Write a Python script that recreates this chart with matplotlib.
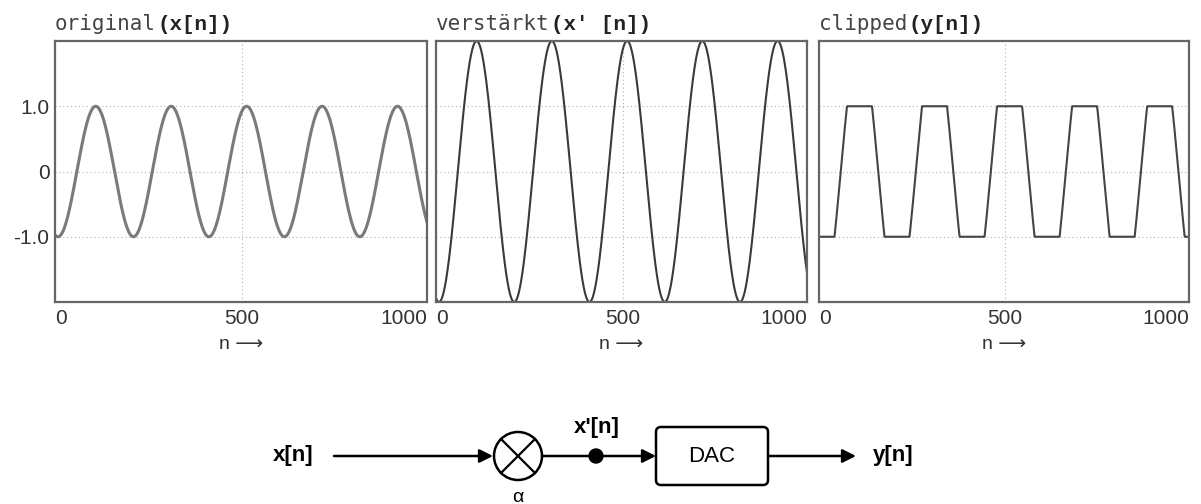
import numpy as np
import matplotlib
matplotlib.use('Agg')
from matplotlib import pyplot as plt
from matplotlib.patches import Circle, FancyBboxPatch

####
# Data
####
# signal parameters: period, shift of first minimum, last sample, gain, clip level
PERIOD = 201.6
SHIFT = 8.0
N_LAST = 994
ALPHA = 2.0
CLIP = 1.0

n = np.arange(0, N_LAST + 1)
x_orig = -np.cos(2 * np.pi * (n - SHIFT) / PERIOD)
x_amp = ALPHA * x_orig
y_clip = np.clip(x_amp, -CLIP, CLIP)

titles_word = ['original', 'verstärkt', 'clipped']
titles_code = ['(x[n])', "(x' [n])", '(y[n])']
series = [x_orig, x_amp, y_clip]
line_colors = ['#7a7a7a', '#3a3a3a', '#444444']
line_widths = [2.2, 1.5, 1.5]

xtick_labels = ['0', '500', '1000']
ytick_vals = [-1.0, 0.0, 1.0]
ytick_labels = ['-1.0', '0', '1.0']

####
# Figure
####
fig = plt.figure(figsize=(12.01, 5.04), dpi=100)
W, H = 1201.0, 504.0

# overlay axes in pixel coords for the block diagram
ax_d = fig.add_axes([0, 0, 1, 1], zorder=-1)
ax_d.set_xlim(0, W)
ax_d.set_ylim(H, 0)
ax_d.axis('off')

panel_px = [(55, 427), (436, 807), (819, 1189)]
top_px, bot_px = 41, 302
sans = ['Liberation Sans', 'DejaVu Sans']

for i, (l, r) in enumerate(panel_px):
    ax = fig.add_axes([l / W, (H - bot_px) / H, (r - l) / W, (bot_px - top_px) / H])
    ax.plot(n, series[i], color=line_colors[i], lw=line_widths[i], solid_joinstyle='round')
    ax.set_xlim(0, N_LAST)
    ax.set_ylim(-2.0, 2.0)
    ax.set_xticks([0, 500, N_LAST])
    ax.set_xticklabels(xtick_labels, family=sans, fontsize=15, color='#333333')
    labs = ax.get_xticklabels()
    labs[0].set_ha('left')
    labs[-1].set_ha('right')
    ax.set_yticks(ytick_vals)
    if i == 0:
        ax.set_yticklabels(ytick_labels, family=sans, fontsize=15, color='#333333')
    else:
        ax.set_yticklabels([])
    ax.tick_params(axis='x', length=0, pad=5)
    ax.tick_params(axis='y', length=0, pad=4)
    ax.grid(True, linestyle=(0, (1, 2.5)), color='#b0b0b0', lw=0.8)
    for sp in ax.spines.values():
        sp.set_color('#666666')
        sp.set_linewidth(1.6)
    ax.set_xlabel('n \u27f6', family=sans, fontsize=14, color='#333333',
                  labelpad=6)

    t1 = ax.annotate(titles_word[i], xy=(0, 1), xycoords='axes fraction',
                     xytext=(0, 5), textcoords='offset points',
                     ha='left', va='bottom', family='DejaVu Sans Mono',
                     fontsize=15, color='#444444')
    ax.annotate(titles_code[i], xy=(1, 0), xycoords=t1,
                xytext=(1, 0), textcoords='offset points',
                ha='left', va='bottom', family='Liberation Mono',
                fontsize=15, fontweight='bold', color='#222222')

####
# Block diagram
####
yl = 456
arr = dict(arrowstyle='-|>', color='black', lw=1.8, mutation_scale=20,
           shrinkA=0, shrinkB=0)
bold = dict(family=sans, fontsize=16, fontweight='bold', va='center')

ax_d.text(293, yl, 'x[n]', ha='center', **bold)
ax_d.annotate('', xy=(493, yl), xytext=(334, yl), arrowprops=arr)

cx, cr = 518, 24
ax_d.add_patch(Circle((cx, yl), cr, fill=False, ec='black', lw=1.8))
d = cr * np.cos(np.pi / 4)
ax_d.plot([cx - d, cx + d], [yl - d, yl + d], color='black', lw=1.6)
ax_d.plot([cx - d, cx + d], [yl + d, yl - d], color='black', lw=1.6)
ax_d.text(cx, 497, '\u03b1', ha='center', va='center', family=sans, fontsize=14)

ax_d.annotate('', xy=(656, yl), xytext=(cx + cr, yl), arrowprops=arr)
ax_d.add_patch(Circle((596, yl), 7, color='black'))
ax_d.text(597, 428, "x'[n]", ha='center', **bold)

ax_d.add_patch(FancyBboxPatch((656, 427), 112, 58,
                              boxstyle='round,pad=0,rounding_size=5',
                              fill=False, ec='black', lw=1.8))
ax_d.text(712, yl, 'DAC', ha='center', va='center', family=sans, fontsize=16)

ax_d.annotate('', xy=(856, yl), xytext=(768, yl), arrowprops=arr)
ax_d.text(893, yl, 'y[n]', ha='center', **bold)

fig.savefig('out.png', dpi=100)
